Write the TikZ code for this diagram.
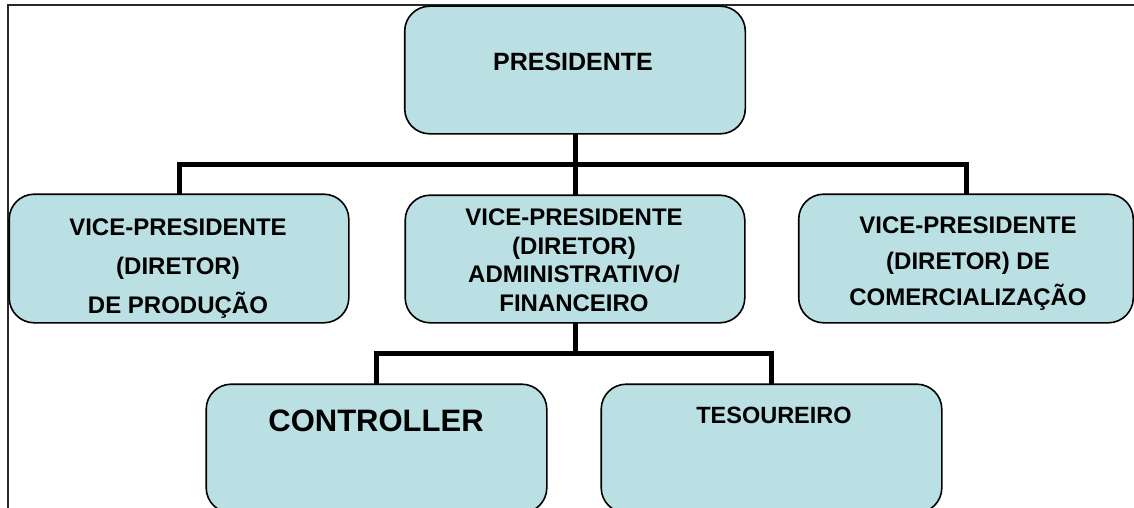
\documentclass[tikz,border=0pt]{standalone}
\usepackage{fontspec}
\setmainfont{Liberation Sans}
\usetikzlibrary{calc}
\definecolor{boxfill}{RGB}{186,224,227}
\definecolor{framecol}{RGB}{40,40,40}
\begin{document}
\begin{tikzpicture}[x=1pt,y=-1pt,
  orgbox/.style={draw=black, line width=1.6pt, fill=boxfill, rounded corners=25pt, inner sep=0pt},
  conn/.style={draw=black, line width=5pt},
  lbl/.style={font=\bfseries\fontsize{24}{28}\selectfont, align=center, inner sep=0pt},
  frameline/.style={draw=framecol, line width=1.8pt}]
\useasboundingbox (0,0) rectangle (1134,508);
\clip (0,0) rectangle (1134,508);
\fill[white] (0,0) rectangle (1134,508);
% frame
\coordinate (ftl) at (8,5);
\coordinate (ftr) at (1140,5);
\coordinate (fbl) at (8,515);
\draw[frameline] (ftr) -- (ftl) -- (fbl);
% boxes (shapes only, for anchors)
\path node[orgbox, minimum width=339pt, minimum height=126pt] (pres) at (575,70) {}
      node[orgbox, minimum width=338pt, minimum height=127pt] (vpl) at (179,258.5) {}
      node[orgbox, minimum width=338pt, minimum height=126pt] (vpm) at (575,259) {}
      node[orgbox, minimum width=333pt, minimum height=127pt] (vpr) at (966,258.5) {}
      node[orgbox, minimum width=339pt, minimum height=127pt] (ctrl) at (376.5,448.5) {}
      node[orgbox, minimum width=339pt, minimum height=127pt] (tes) at (771.5,448.5) {};
% connectors
\coordinate (bus1) at (575,164);
\coordinate (bus2) at (575,353);
\draw[conn] (pres.south) -- (bus1);
\draw[conn] (vpl.north) |- (bus1) -| (vpr.north);
\draw[conn] (bus1) -- (vpm.north);
\draw[conn] (vpm.south) -- (bus2);
\draw[conn] (ctrl.north) |- (bus2) -| (tes.north);
% redraw boxes on top
\foreach \n in {pres,vpl,vpm,vpr,ctrl,tes}{
  \draw[orgbox] (\n.south west) rectangle (\n.north east);
}
% texts
\node[lbl, font=\bfseries\fontsize{25}{28}\selectfont] (tpres) at (573,62) {PRESIDENTE};
\node[lbl, font=\bfseries\fontsize{24}{39}\selectfont] (tvpl) at (178,269) {VICE-PRESIDENTE\\(DIRETOR)\\DE PRODUÇÃO};
\node[lbl, font=\bfseries\fontsize{24}{28.5}\selectfont] (tvpm) at (574,260) {VICE-PRESIDENTE\\(DIRETOR)\\ADMINISTRATIVO/\\FINANCEIRO};
\node[lbl, font=\bfseries\fontsize{24}{36}\selectfont] (tvpr) at (968,264) {VICE-PRESIDENTE\\(DIRETOR) DE\\COMERCIALIZAÇÃO};
\node[lbl, font=\bfseries\fontsize{31}{36}\selectfont] (tctrl) at (376,421) {CONTROLLER};
\node[lbl, font=\bfseries\fontsize{23.5}{28}\selectfont] (ttes) at (774,415) {TESOUREIRO};
\end{tikzpicture}
\end{document}
